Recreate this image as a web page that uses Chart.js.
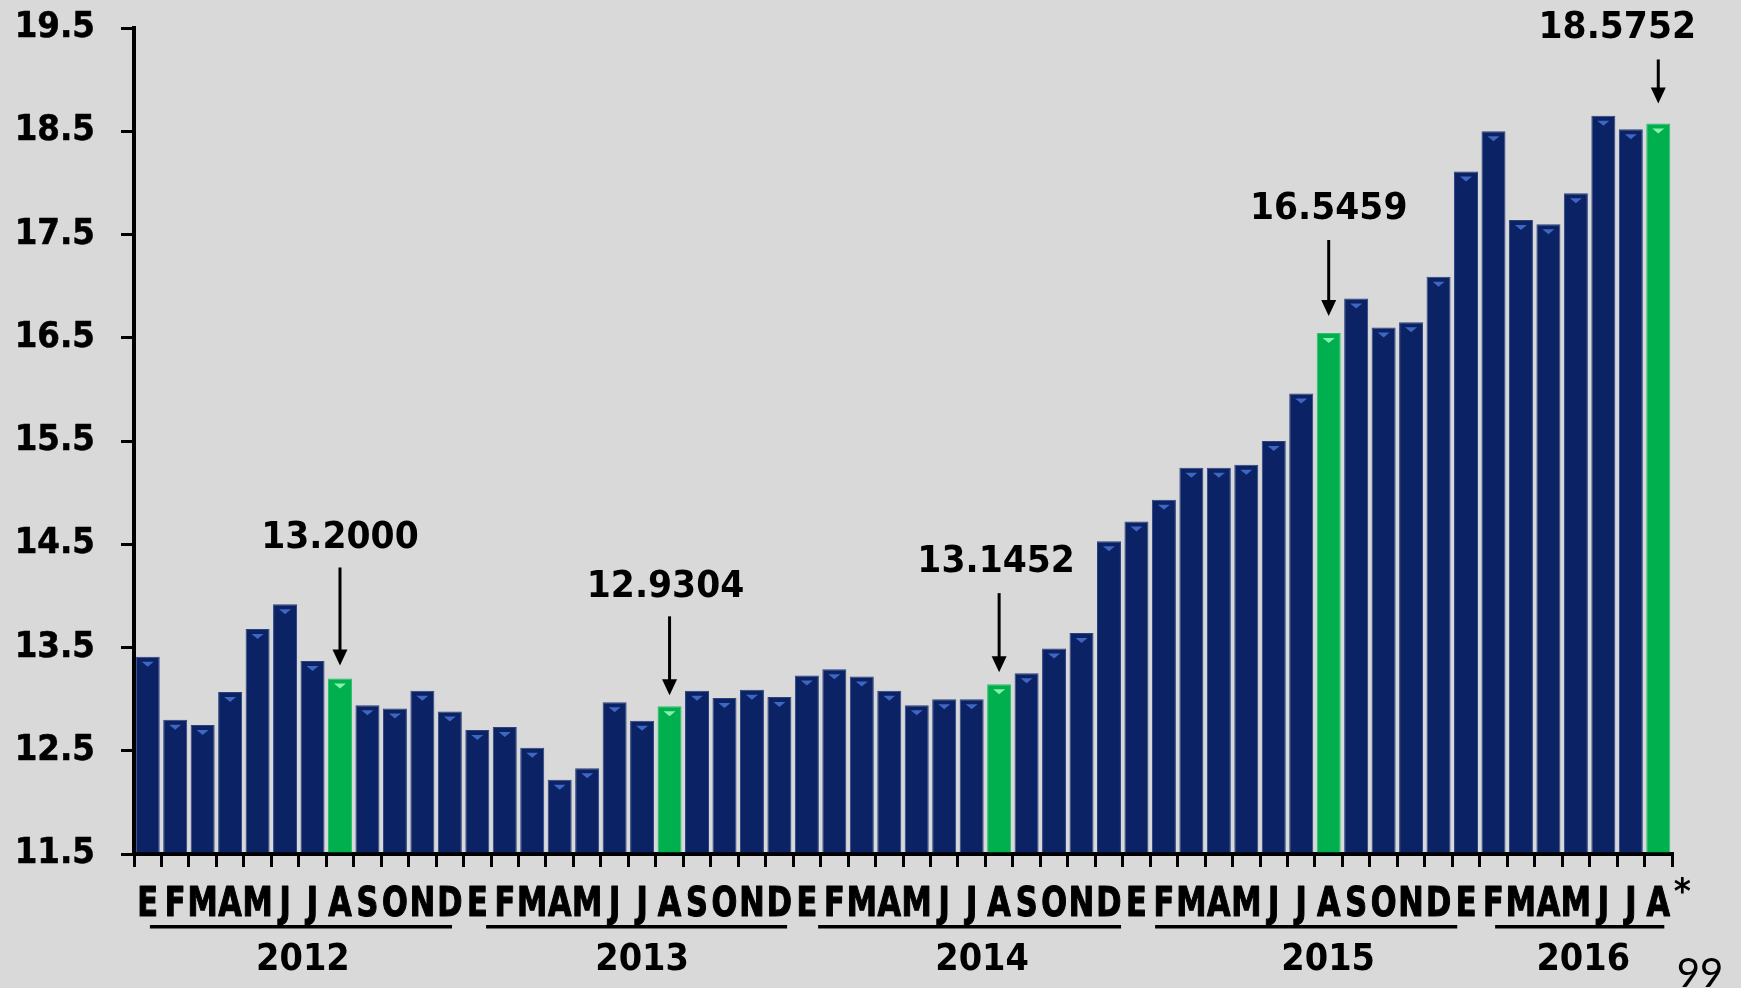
<!DOCTYPE html>
<html>
<head>
<meta charset="utf-8">
<script src="https://cdn.jsdelivr.net/npm/chart.js@4.4.1/dist/chart.umd.min.js"></script>
<style>
  html, body { margin: 0; padding: 0; background: #d9d9d9; }
  #wrap { width: 1741px; height: 988px; position: relative; }
  canvas { display: block; }
</style>
</head>
<body>
<div id="wrap"><canvas id="chart" width="1741" height="988"></canvas></div>
<script>
// ---- data ----
const monthLetters = ['E', 'F', 'M', 'A', 'M', 'J', 'J', 'A', 'S', 'O', 'N', 'D'];
const years = ['2012', '2013', '2014', '2015', '2016'];
const values2012 = [13.41, 12.80, 12.75, 13.07, 13.68, 13.92, 13.37, 13.2000, 12.94, 12.91, 13.08, 12.88];
const values2013 = [12.70, 12.73, 12.53, 12.22, 12.33, 12.97, 12.79, 12.9304, 13.08, 13.01, 13.09, 13.02];
const values2014 = [13.23, 13.29, 13.22, 13.08, 12.94, 13.00, 13.00, 13.1452, 13.25, 13.49, 13.64, 14.53];
const values2015 = [14.72, 14.93, 15.24, 15.24, 15.27, 15.50, 15.96, 16.5459, 16.88, 16.60, 16.65, 17.09];
const values2016 = [18.11, 18.50, 17.64, 17.60, 17.90, 18.65, 18.52, 18.5752];
const highlightMonth = 7; // August of every year is highlighted and labelled
const yTickValues = [11.5, 12.5, 13.5, 14.5, 15.5, 16.5, 17.5, 18.5, 19.5];
const pageNumber = '99';

// ---- derived series ----
const yearlyValues = [values2012, values2013, values2014, values2015, values2016];
const categories = [];
const values = [];
const highlighted = [];
yearlyValues.forEach(vals => {
  vals.forEach((v, m) => {
    categories.push(monthLetters[m]);
    values.push(v);
    highlighted.push(m === highlightMonth);
  });
});
const lastIndex = values.length - 1;

// ---- look ----
const NAVY = '#0b2264';
const GREEN = '#00b04f';
const BOLD = 'DejaVu Sans';

// placement of the callouts (pixels above the bar top) and of the year captions (in category units)
const calloutLayout = {
  labelRise: [140, 119, 122, 124, 95],
  arrowFrom: [111, 90, 91, 93, 64],
  arrowTo:   [13, 11, 12, 17, 20],
  labelShift:[0, -4, -3, 0, -41]
};
const yearLayout = {
  center:    [5.65, 18.0, 30.38, 42.98, 52.27],
  lineStart: [0.08, 12.32, 24.41, 36.68, 49.06],
  lineEnd:   [11.08, 23.28, 35.44, 47.68, 55.22]
};

// Scales whose tick labels are drawn horizontally condensed (and slightly emboldened)
function condensedScale(Base, id, sx, stroke) {
  class Condensed extends Base {
    drawLabels(chartArea) {
      const ctx = this.ctx;
      const items = this.getLabelItems(chartArea);
      for (const item of items) {
        const o = item.options || item;
        const t = o.translation;
        ctx.save();
        ctx.translate(t[0], t[1]);
        if (o.rotation) ctx.rotate(o.rotation);
        ctx.scale(sx, 1);
        ctx.font = item.font.string;
        ctx.fillStyle = o.color;
        ctx.strokeStyle = o.color;
        ctx.lineWidth = stroke;
        ctx.lineJoin = 'round';
        ctx.textAlign = o.textAlign;
        ctx.textBaseline = o.textBaseline;
        const lines = Array.isArray(item.label) ? item.label : [item.label];
        lines.forEach((ln, i) => {
          const ly = item.textOffset + i * item.font.lineHeight;
          if (stroke > 0) ctx.strokeText(ln, 0, ly);
          ctx.fillText(ln, 0, ly);
        });
        ctx.restore();
      }
    }
  }
  Condensed.id = id;
  Condensed.defaults = Base.defaults;
  return Condensed;
}
Chart.register(
  condensedScale(Chart.CategoryScale, 'condensedCategory', 0.76, 1.2),
  condensedScale(Chart.LinearScale, 'condensedLinear', 0.93, 0.6)
);

function condensedText(ctx, text, x, y, sx, align) {
  ctx.save();
  ctx.translate(x, y);
  ctx.scale(sx, 1);
  ctx.textAlign = align || 'center';
  ctx.fillText(text, 0, 0);
  ctx.restore();
}

const decorations = {
  id: 'decorations',
  afterDatasetsDraw(chart) {
    // small chevron at the top of every bar
    const ctx = chart.ctx;
    const meta = chart.getDatasetMeta(0);
    meta.data.forEach((bar, i) => {
      const cx = bar.x, top = bar.y;
      ctx.save();
      ctx.fillStyle = highlighted[i] ? '#86f2ae' : '#3f66c2';
      ctx.beginPath();
      ctx.moveTo(cx - 6, top + 5);
      ctx.lineTo(cx + 6, top + 5);
      ctx.lineTo(cx, top + 10);
      ctx.closePath();
      ctx.fill();
      ctx.restore();
    });
  },
  afterDraw(chart) {
    const ctx = chart.ctx;
    const x = chart.scales.x;
    const meta = chart.getDatasetMeta(0);
    const x0 = x.getPixelForValue(0);
    const step = x.getPixelForValue(1) - x0;
    const at = u => x0 + u * step;

    ctx.save();
    ctx.fillStyle = '#000';
    ctx.strokeStyle = '#000';

    // year captions and their underlines
    ctx.font = `bold 37px ${BOLD}`;
    ctx.textBaseline = 'middle';
    years.forEach((yr, k) => {
      condensedText(ctx, yr, at(yearLayout.center[k]), 960, 0.91);
      const a = at(yearLayout.lineStart[k]), b = at(yearLayout.lineEnd[k]);
      ctx.fillRect(a, 925, b - a, 3.5);
    });

    // asterisk after the last month
    ctx.font = `bold 36px ${BOLD}`;
    ctx.textBaseline = 'alphabetic';
    condensedText(ctx, '*', at(lastIndex) + 24, 903, 0.91);

    // callouts over the highlighted bars
    let k = 0;
    meta.data.forEach((bar, i) => {
      if (!highlighted[i]) return;
      const cx = bar.x, top = bar.y;
      const label = values[i].toFixed(4);
      ctx.font = `bold 38px ${BOLD}`;
      ctx.textBaseline = 'middle';
      condensedText(ctx, label, cx + calloutLayout.labelShift[k], top - calloutLayout.labelRise[k], 0.91);
      const y1 = top - calloutLayout.arrowFrom[k];
      const y2 = top - calloutLayout.arrowTo[k];
      ctx.lineWidth = 3;
      ctx.beginPath();
      ctx.moveTo(cx, y1);
      ctx.lineTo(cx, y2 - 12);
      ctx.stroke();
      ctx.beginPath();
      ctx.moveTo(cx - 7.5, y2 - 16);
      ctx.lineTo(cx + 7.5, y2 - 16);
      ctx.lineTo(cx, y2);
      ctx.closePath();
      ctx.fill();
      k++;
    });

    // page number
    ctx.font = '40px Lato, "Noto Sans", sans-serif';
    ctx.textBaseline = 'alphabetic';
    ctx.textAlign = 'center';
    ctx.fillText(pageNumber, 1700, 987);
    ctx.restore();
  }
};

const background = {
  id: 'background',
  beforeDraw(chart) {
    const ctx = chart.ctx;
    ctx.save();
    ctx.fillStyle = '#d9d9d9';
    ctx.fillRect(0, 0, chart.width, chart.height);
    ctx.restore();
  }
};

new Chart(document.getElementById('chart'), {
  type: 'bar',
  data: {
    labels: categories,
    datasets: [{
      data: values,
      backgroundColor: highlighted.map(h => h ? GREEN : NAVY),
      borderColor: highlighted.map(h => h ? '#2fbf68' : '#2b4281'),
      borderWidth: 1,
      barPercentage: 0.874,
      categoryPercentage: 1.0,
      base: 11.5
    }]
  },
  options: {
    responsive: false,
    animation: false,
    devicePixelRatio: 1,
    layout: { padding: { top: 28, right: 69, left: 0, bottom: 0 } },
    plugins: { legend: { display: false }, tooltip: { enabled: false } },
    scales: {
      x: {
        type: 'condensedCategory',
        grid: { offset: true, drawOnChartArea: false, tickLength: 13, color: '#000', lineWidth: 3 },
        border: { display: true, color: '#000', width: 4 },
        ticks: {
          autoSkip: false, maxRotation: 0, minRotation: 0, padding: 15,
          color: '#000', font: { family: BOLD, size: 40, weight: 'bold' }
        },
        afterFit(scale) { scale.height = 134; }
      },
      y: {
        type: 'condensedLinear',
        min: 11.5,
        max: 19.5,
        afterBuildTicks(scale) { scale.ticks = yTickValues.map(v => ({ value: v })); },
        grid: { drawOnChartArea: false, tickLength: 13, color: '#000', lineWidth: 3 },
        border: { display: true, color: '#000', width: 4 },
        ticks: {
          padding: 26, color: '#000',
          font: { family: BOLD, size: 35, weight: 'bold' },
          callback: v => Number(v).toFixed(1)
        },
        afterFit(scale) {
          scale.width = 134;
          scale.paddingTop = 0;
          scale.paddingBottom = 0;
        }
      }
    }
  },
  plugins: [background, decorations]
});
</script>
</body>
</html>
